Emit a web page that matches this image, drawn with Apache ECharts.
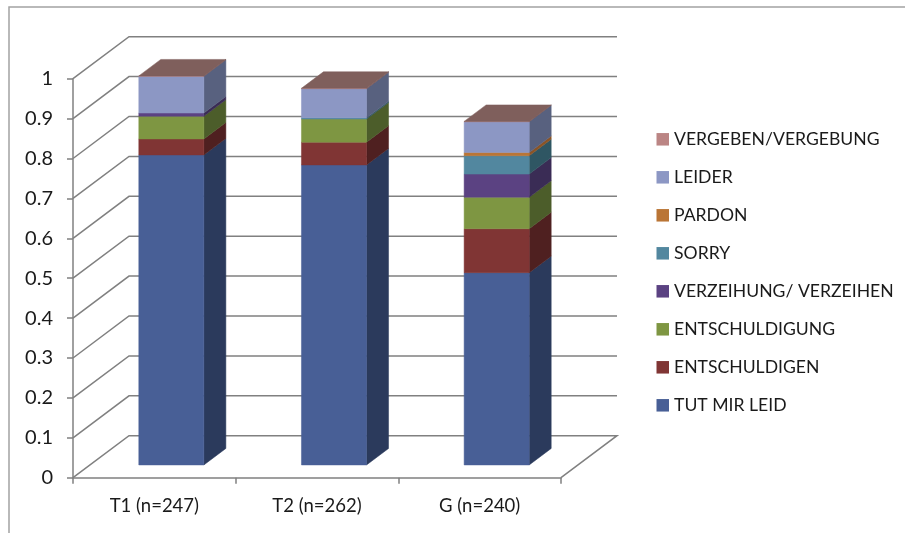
<!DOCTYPE html>
<html>
<head>
<meta charset="utf-8">
<style>html,body{margin:0;padding:0;background:#fff}#c{width:905px;height:533px}</style>
<script src="https://cdn.jsdelivr.net/npm/echarts@6/dist/echarts.min.js"></script>
</head>
<body>
<div id="c"></div>
<script>
const categories = ['T1 (n=247)', 'T2 (n=262)', 'G (n=240)'];
const yTicks = [0, 0.1, 0.2, 0.3, 0.4, 0.5, 0.6, 0.7, 0.8, 0.9, 1];

const seriesNames = ['TUT MIR LEID', 'ENTSCHULDIGEN', 'ENTSCHULDIGUNG', 'VERZEIHUNG/ VERZEIHEN', 'SORRY', 'PARDON', 'LEIDER', 'VERGEBEN/VERGEBUNG'];
const tutMirLeid     = [0.777, 0.752, 0.482];
const entschuldigen  = [0.040, 0.057, 0.110];
const entschuldigung = [0.057, 0.058, 0.079];
const verzeihung     = [0.008, 0,     0.058];
const sorry          = [0,     0.003, 0.046];
const pardon         = [0,     0,     0.008];
const leider         = [0.092, 0.073, 0.077];
const vergeben       = [0.001, 0.001, 0.001];
const seriesValues = [tutMirLeid, entschuldigen, entschuldigung, verzeihung, sorry, pardon, leider, vergeben];

const frontColors = ['#485f96', '#803534', '#7e9642', '#5b4282', '#52879f', '#ba7535', '#8c97c4', '#bb8584'];
const sideColors  = ['#2b3a5c', '#4f2020', '#4c5d2a', '#3a2c55', '#2f5663', '#8a5426', '#58617f', '#7a5a5c'];
const topColor = '#7f5f5c';
const gridColor = '#808080';
const fontFamily = 'Lato, "Open Sans", sans-serif';

const DEPTH_X = 56, DEPTH_Y = -42;
const BAR_WIDTH_RATIO = 0.4, BAR_DEPTH_RATIO = 22 / 56, BAR_FRONT_RATIO = 17 / 56;

function wallSeries() {
  return {
    type: 'custom', silent: true, z: 1, clip: false,
    data: yTicks.map(v => [0, v]),
    encode: { x: 0, y: 1 },
    renderItem(params, api) {
      const sys = params.coordSys;
      const v = api.value(1);
      const y = api.coord([0, v])[1];
      const x0 = sys.x, x1 = sys.x + sys.width;
      const pts = [[x0, y], [x0 + DEPTH_X, y + DEPTH_Y], [x1 + DEPTH_X, y + DEPTH_Y]];
      if (v === 0) pts.push([x1, y]);
      return { type: 'polyline', shape: { points: pts },
        style: { stroke: gridColor, lineWidth: 1.5, fill: null } };
    }
  };
}

function stackSeries() {
  const base = categories.map(() => 0);
  return seriesNames.map((name, si) => {
    const rows = categories.map((c, ci) => {
      const row = [ci, base[ci], base[ci] + seriesValues[si][ci]];
      base[ci] = row[2];
      return row;
    });
    return {
      type: 'custom', name, z: 3, clip: false,
      itemStyle: { color: frontColors[si] },
      data: rows,
      encode: { x: 0, y: [1, 2] },
      renderItem(params, api) {
        const lo = api.value(1), hi = api.value(2);
        if (hi <= lo) return { type: 'group', children: [] };
        const cat = api.value(0);
        const w = api.size([1, 0])[0] * BAR_WIDTH_RATIO;
        const sx = DEPTH_X * BAR_FRONT_RATIO, sy = DEPTH_Y * BAR_FRONT_RATIO;
        const dx = DEPTH_X * BAR_DEPTH_RATIO, dy = DEPTH_Y * BAR_DEPTH_RATIO;
        const pLo = api.coord([cat, lo]), pHi = api.coord([cat, hi]);
        const l = pLo[0] + sx - w / 2, r = l + w;
        const yl = pLo[1] + sy, yh = pHi[1] + sy;
        const poly = (points, color) => ({ type: 'polygon', shape: { points },
          style: { fill: color, stroke: color, lineWidth: 0.5 } });
        const kids = [
          poly([[r, yl], [r + dx, yl + dy], [r + dx, yh + dy], [r, yh]], sideColors[si]),
          poly([[l, yl], [r, yl], [r, yh], [l, yh]], frontColors[si])
        ];
        if (si === seriesNames.length - 1) {
          kids.push(poly([[l, yh], [r, yh], [r + dx, yh + dy], [l + dx, yh + dy]], topColor));
        }
        return { type: 'group', children: kids };
      }
    };
  });
}

const chart = echarts.init(document.getElementById('c'), null, { renderer: 'canvas' });
chart.setOption({
  animation: false,
  backgroundColor: '#ffffff',
  textStyle: { fontFamily },
  grid: { left: 73, top: 78.7, width: 488, height: 399, containLabel: false },
  xAxis: {
    type: 'category', data: categories, z: 2,
    axisLine: { show: true, lineStyle: { color: gridColor, width: 1.5 } },
    axisTick: { show: true, length: 6, lineStyle: { color: gridColor, width: 1.5 } },
    axisLabel: { color: '#1a1a1a', fontSize: 18.5, fontFamily, margin: 19 },
    splitLine: { show: false }
  },
  yAxis: {
    type: 'value', min: 0, max: 1, interval: 0.1, z: 2,
    axisLine: { show: true, lineStyle: { color: gridColor, width: 1.5 } },
    axisTick: { show: true, length: 6, lineStyle: { color: gridColor, width: 1.5 } },
    axisLabel: { color: '#1a1a1a', fontSize: 20, fontFamily, margin: 20, formatter: v => String(+v.toFixed(1)) },
    splitLine: { show: false }
  },
  legend: {
    orient: 'vertical', left: 651.5, top: 124.3,
    data: seriesNames.slice().reverse(),
    icon: 'rect', itemWidth: 12.5, itemHeight: 12.5, itemGap: 18,
    selectedMode: false,
    textStyle: { color: '#1a1a1a', fontSize: 17.6, fontFamily, lineHeight: 20, padding: [0, 0, 0, 0] }
  },
  graphic: [{
    type: 'polyline', silent: true,
    shape: { points: [[9, 533], [9, 7], [905, 7]] },
    style: { stroke: '#a3a3a3', lineWidth: 1.5, fill: null }
  }],
  series: [wallSeries()].concat(stackSeries())
});
</script>
</body>
</html>
